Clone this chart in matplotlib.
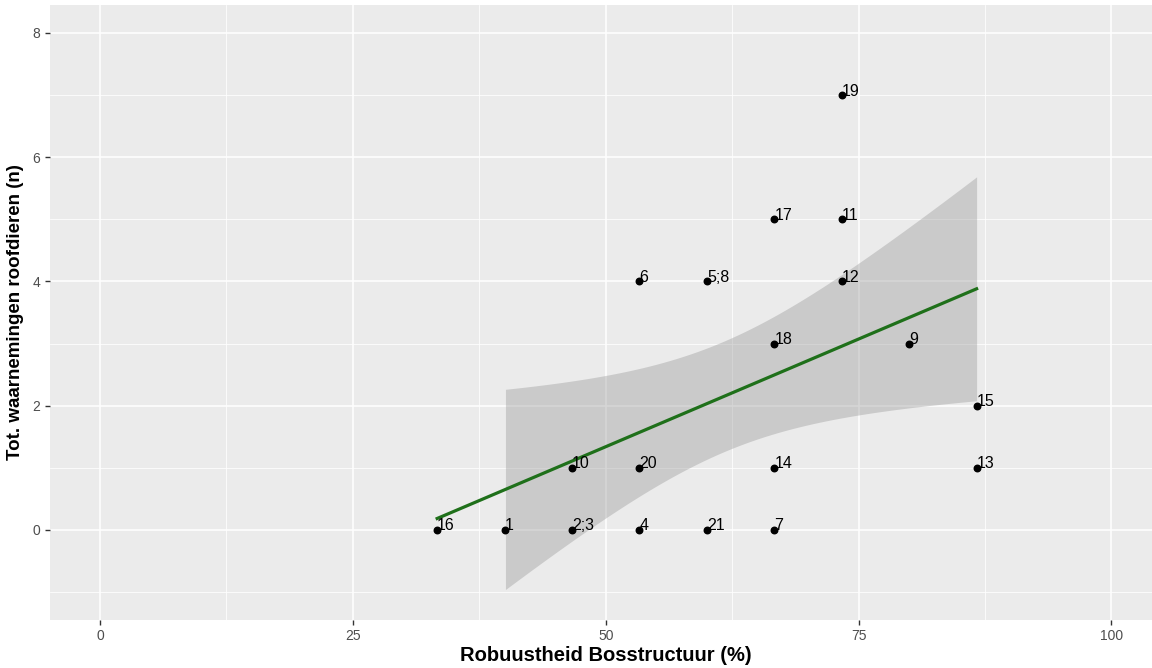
import numpy as np
import matplotlib
matplotlib.use("Agg")
import matplotlib.pyplot as plt
from matplotlib.ticker import MultipleLocator
from matplotlib.transforms import offset_copy

plt.rcParams["font.family"] = ["Liberation Sans", "DejaVu Sans"]

labels = ["1", "2;3", "4", "5;8", "6", "7", "9", "10", "11", "12",
          "13", "14", "15", "16", "17", "18", "19", "20", "21"]
robuust = [40.0, 46.67, 53.33, 60.0, 53.33, 66.67, 80.0, 46.67, 73.33, 73.33,
           86.67, 66.67, 86.67, 33.33, 66.67, 66.67, 73.33, 53.33, 60.0]
roofdieren = [0, 0, 0, 4, 4, 0, 3, 1, 5, 4,
              1, 1, 2, 0, 5, 3, 7, 1, 0]
# "2;3" and "5;8" are two plots each
weights = [1, 2, 1, 2, 1, 1, 1, 1, 1, 1, 1, 1, 1, 1, 1, 1, 1, 1, 1]

x_lim = (0, 100)
y_lim = (-1, 8)


def lm_smooth(x, y, n=80):
    # same as geom_smooth(method = "lm")
    x = np.asarray(x, float)
    y = np.asarray(y, float)
    X = np.column_stack([np.ones_like(x), x])
    beta, *_ = np.linalg.lstsq(X, y, rcond=None)
    resid = y - X @ beta
    s2 = resid @ resid / (len(x) - 2)
    cov = s2 * np.linalg.inv(X.T @ X)
    grid = np.linspace(x.min(), x.max(), n)
    G = np.column_stack([np.ones_like(grid), grid])
    fit = G @ beta
    se = np.sqrt(np.einsum("ij,jk,ik->i", G, cov, G))
    t = 2.093  # qt(0.975, 19)
    return grid, fit, fit - t * se, fit + t * se


xs = np.repeat(robuust, weights)
ys = np.repeat(roofdieren, weights)
grid, fit, lo, hi = lm_smooth(xs, ys)

fig = plt.figure(figsize=(11.52, 6.68), dpi=100)
W, H = 1152, 668
ax = fig.add_axes([49.5 / W, 1 - 620 / H, 1112.5 / W, 615 / H])
ax.set_facecolor("#ebebeb")

xr = x_lim[1] - x_lim[0]
yr = y_lim[1] - y_lim[0]
ax.set_xlim(x_lim[0] - 0.05 * xr, x_lim[1] + 0.05 * xr)
ax.set_ylim(y_lim[0] - 0.05 * yr, y_lim[1] + 0.05 * yr)

ax.xaxis.set_major_locator(MultipleLocator(25))
ax.xaxis.set_minor_locator(MultipleLocator(12.5))
ax.yaxis.set_major_locator(MultipleLocator(2))
ax.yaxis.set_minor_locator(MultipleLocator(1))
ax.grid(which="major", color="white", lw=1.1)
ax.grid(which="minor", color="white", lw=0.55)
ax.set_axisbelow(True)
for sp in ax.spines.values():
    sp.set_visible(False)
ax.tick_params(which="major", length=3.5, width=1, color="#333333",
               labelcolor="#4d4d4d", labelsize=10, pad=3)
ax.tick_params(which="minor", length=0)

# ribbon values outside the y limits are dropped, like ggplot does
ok = lo >= y_lim[0]
ax.fill_between(grid[ok], lo[ok], hi[ok], color="#999999", alpha=0.4, lw=0, zorder=2)
ax.plot(grid, fit, color="#1f701a", lw=2.3, zorder=3)

ax.scatter(robuust, roofdieren, s=22, color="black", zorder=4)
txt_tr = offset_copy(ax.transData, fig=fig, x=0, y=-3.5, units="dots")
for lab, xv, yv in zip(labels, robuust, roofdieren):
    ax.text(xv, yv, lab, ha="left", va="bottom", fontsize=11.5, zorder=5,
            transform=txt_tr)

ax.set_xlabel("Robuustheid Bosstructuur (%)", fontsize=14.5, fontweight="bold", labelpad=2)
ax.set_ylabel("Tot. waarnemingen roofdieren (n)", fontsize=13.5, fontweight="bold", labelpad=6)

fig.savefig("out.png", dpi=100)
